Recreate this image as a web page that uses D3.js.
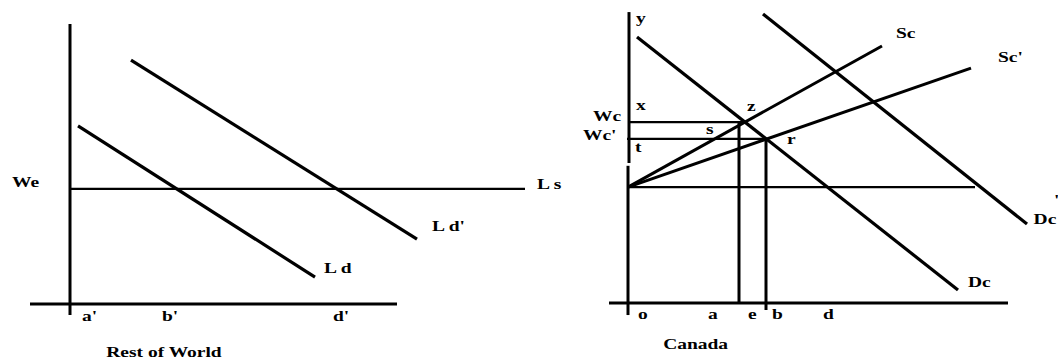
<!DOCTYPE html>
<html>
<head>
<meta charset="utf-8">
<script src="https://cdn.jsdelivr.net/npm/d3@7"></script>
<style>
  html, body { margin: 0; padding: 0; background: #fff; }
  svg { display: block; }
  text { font-family: "Liberation Serif", "Times New Roman", serif; font-weight: bold; font-size: 15px; fill: #000; }
</style>
</head>
<body>
<svg id="chart" width="1058" height="361"></svg>
<script>
// ---------- Rest of World panel (data units) ----------
const rowLd      = [[2, 63.6], [61.25, 9.6]];
const rowLdPrime = [[15.25, 87.1], [86.75, 23.2]];
const rowWe      = 41.1;            // world wage level
const rowLsEnd   = 113.75;          // extent of Ls line
const rowXAxis   = [-10, 81.75];
const rowYAxis   = [-3.9, 100];
const rowTickLabels = ["a'", "b'", "d'"];
const rowTickX      = [3, 23, 65.75];
const rowTickY      = -6;
const rowLabels = [
  { t: "We",   x: -14.5,  y: 41.8 },
  { t: "L s",  x: 116.75, y: 41.1 },
  { t: "L d'", x: 90.5,   y: 26.1 },
  { t: "L d",  x: 63.5,   y: 11.1 }
];
const rowTitle = { t: "Rest of World", x: 23.5, y: -18.9 };

// ---------- Canada panel (data units) ----------
const caDc      = [[2.25, 95], [82.5, 4.64]];
const caDcPrime = [[33.75, 103.2], [99.75, 28.2]];
const caSc      = [[0, 41.4], [63.5, 91.8]];
const caScPrime = [[0, 41.4], [85.75, 83.9]];
const caWe      = 41.4;  const caWeEnd = 86.75;
const caWc      = 64.6;  const caWcRange  = [0.5, 28.75];
const caWcP     = 58.6;  const caWcPRange = [-0.25, 34.5];
const caVertZ   = [27.75, 0, 64.6];
const caVertR   = [34.5, -2.5, 58.6];
const caXAxis   = [-4.75, 95];
const caYAxisUpper = [0.25, 50, 103.9];
const caYAxisLower = [0, -4.3, 49];
const caTickLabels = ["o", "a", "e", "b", "d"];
const caTickX      = [2.5, 20, 30, 36, 48.75];
const caTickY      = -5.7;
const caLabels = [
  { t: "y",   x: 2,      y: 100 },
  { t: "Sc",  x: 67,     y: 94.6 },
  { t: "Sc'", x: 92.5,   y: 86.1 },
  { t: "x",   x: 2,      y: 68.9 },
  { t: "z",   x: 29.75,  y: 68.6 },
  { t: "Wc",  x: -8.75,  y: 65 },
  { t: "Wc'", x: -11.25, y: 58.2 },
  { t: "s",   x: 19.5,   y: 60.4 },
  { t: "t",   x: 1.75,   y: 53.9 },
  { t: "r",   x: 39.75,  y: 56.8 },
  { t: "Dc",  x: 101.4,  y: 28.2 },
  { t: "'",   x: 106.5,  y: 35 },
  { t: "Dc",  x: 85,     y: 5.7 }
];
const caTitle = { t: "Canada", x: 16.9, y: -16.4 };

// ---------- drawing ----------
const svg = d3.select("#chart");

function panel(xr, yr) {
  return {
    x: d3.scaleLinear().domain([0, 100]).range(xr),
    y: d3.scaleLinear().domain([0, 100]).range(yr)
  };
}
const L = panel([70, 470], [304, 24]);
const R = panel([628, 1028], [303, 23]);

function seg(g, s, p0, p1, w) {
  g.append("line")
    .attr("x1", s.x(p0[0])).attr("y1", s.y(p0[1]))
    .attr("x2", s.x(p1[0])).attr("y2", s.y(p1[1]))
    .attr("stroke", "#000").attr("stroke-width", w);
}
function label(g, s, d, anchor) {
  g.append("text")
    .attr("transform", `translate(${s.x(d.x)},${s.y(d.y)}) scale(1.3,1)`)
    .attr("text-anchor", anchor || "start").text(d.t);
}

// Left panel
const gl = svg.append("g");
seg(gl, L, [0, rowYAxis[0]], [0, rowYAxis[1]], 3);
seg(gl, L, [rowXAxis[0], 0], [rowXAxis[1], 0], 3);
seg(gl, L, [0, rowWe], [rowLsEnd, rowWe], 2.2);
seg(gl, L, rowLd[0], rowLd[1], 3.2);
seg(gl, L, rowLdPrime[0], rowLdPrime[1], 3.2);
rowLabels.forEach(d => label(gl, L, d));
rowTickLabels.forEach((t, i) => label(gl, L, { t, x: rowTickX[i], y: rowTickY }));
label(gl, L, rowTitle, "middle");

// Right panel
const gr = svg.append("g");
seg(gr, R, [caYAxisUpper[0], caYAxisUpper[1]], [caYAxisUpper[0], caYAxisUpper[2]], 3);
seg(gr, R, [caYAxisLower[0], caYAxisLower[1]], [caYAxisLower[0], caYAxisLower[2]], 3);
seg(gr, R, [caXAxis[0], 0], [caXAxis[1], 0], 3);
seg(gr, R, [0, caWe], [caWeEnd, caWe], 2.2);
seg(gr, R, [caWcRange[0], caWc], [caWcRange[1], caWc], 2.2);
seg(gr, R, [caWcPRange[0], caWcP], [caWcPRange[1], caWcP], 2.2);
seg(gr, R, [caVertZ[0], caVertZ[1]], [caVertZ[0], caVertZ[2]], 3);
seg(gr, R, [caVertR[0], caVertR[1]], [caVertR[0], caVertR[2]], 3);
seg(gr, R, caDc[0], caDc[1], 3.2);
seg(gr, R, caDcPrime[0], caDcPrime[1], 3.2);
seg(gr, R, caSc[0], caSc[1], 3);
seg(gr, R, caScPrime[0], caScPrime[1], 3);
caLabels.forEach(d => label(gr, R, d));
caTickLabels.forEach((t, i) => label(gr, R, { t, x: caTickX[i], y: caTickY }));
label(gr, R, caTitle, "middle");
</script>
</body>
</html>
